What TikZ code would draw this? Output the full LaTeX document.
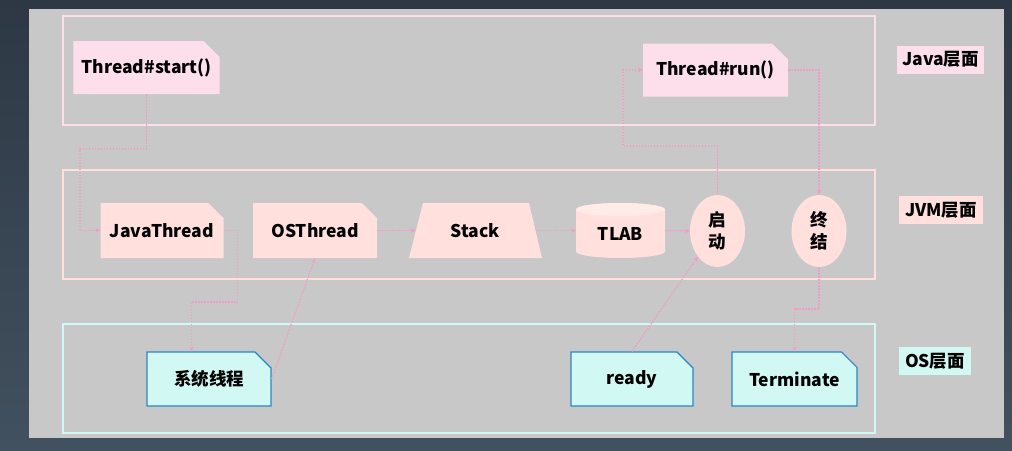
\documentclass[tikz,border=0pt]{standalone}
\usepackage{fontspec}
\setmainfont{Noto Sans CJK SC}
\usetikzlibrary{shapes.misc,shapes.geometric,arrows.meta,calc}
\definecolor{bgtop}{HTML}{2D3844}
\definecolor{bgbot}{HTML}{42515F}
\definecolor{panel}{HTML}{C8C8C8}
\definecolor{javapink}{HTML}{FCDFEA}
\definecolor{jvmpink}{HTML}{FFE0DC}
\definecolor{tlabtop}{HTML}{FFEBE8}
\definecolor{oscyan}{HTML}{D2F8F4}
\definecolor{osblue}{HTML}{2A86C6}
\definecolor{linkpink}{HTML}{F39CC6}
\tikzset{
  txt/.style={font=\fontsize{17.5}{22}\selectfont\bfseries, text=black, inner sep=0pt},
  dogear/.style={txt, chamfered rectangle, chamfered rectangle corners=north east,
     chamfered rectangle xsep=8pt, chamfered rectangle ysep=8pt},
  javanode/.style={dogear, fill=javapink, minimum width=145pt, minimum height=53pt},
  jvmnode/.style={dogear, fill=jvmpink, minimum width=123pt, minimum height=55pt},
  osnode/.style={dogear, fill=oscyan, draw=osblue, line width=1.2pt, minimum width=123pt, minimum height=54pt},
  oval/.style={txt, ellipse, fill=jvmpink, minimum width=55pt, minimum height=72pt, align=center},
  layerlabel/.style={txt, minimum height=28pt},
  javabox/.style={draw=javapink, line width=2pt},
  jvmbox/.style={draw=jvmpink, line width=2pt},
  osbox/.style={draw=oscyan, line width=2pt},
  conn/.style={draw=linkpink, line width=1.3pt, dash pattern=on 1.5pt off 1.5pt, -{Stealth[length=5pt,width=4.5pt]}},
}
\begin{document}
\begin{tikzpicture}[x=1pt,y=-1pt]
\useasboundingbox (0,0) rectangle (1012,450);
\shade[top color=bgtop, bottom color=bgbot] (0,0) rectangle (1012,450);
\fill[panel] (29,9) rectangle (1004,438);
% layers
\draw[javabox] (63,16) rectangle (875,125);
\draw[jvmbox] (63,170) rectangle (875,279);
\draw[osbox] (63,324) rectangle (875,433);
% layer labels
\node[layerlabel, fill=javapink, minimum width=87pt] (lj) at (940.5,59.5) {Java层面};
\node[layerlabel, fill=jvmpink, minimum width=84pt] (lv) at (941,210) {JVM层面};
\node[layerlabel, fill=oscyan, minimum width=72pt] (lo) at (935,361) {OS层面};
% java level
\node[javanode] (start) at (146.5,67.5) {Thread\#start()};
\node[javanode] (run) at (715.5,70) {Thread\#run()};
% jvm level
\node[jvmnode] (jt) at (162,230.5) {JavaThread};
\node[jvmnode, minimum width=124pt] (ost) at (315,230.5) {OSThread};
\fill[jvmpink] (409,258) -- (423,203) -- (529,203) -- (542,258) -- cycle;
\node[txt, minimum width=120pt, minimum height=55pt] (stack) at (475.5,230.5) {Stack};
\fill[jvmpink] (576,209.5) -- (576,251.5) arc[start angle=180, end angle=0, x radius=44.5, y radius=6.5]
   -- (665,209.5) arc[start angle=0, end angle=-180, x radius=44.5, y radius=6.5] -- cycle;
\fill[tlabtop] (620.5,209.5) ellipse[x radius=44.5, y radius=6.5];
\node[txt, minimum width=89pt, minimum height=55pt] (tlab) at (620.5,234) {TLAB};
\node[oval] (qd) at (717.5,231) {启\\动};
\node[oval] (zj) at (819,231) {终\\结};
% os level
\node[osnode, minimum width=124pt] (sys) at (209,379) {系统线程};
\node[osnode, minimum width=122pt] (ready) at (632,379) {ready};
\node[osnode, minimum width=125pt] (term) at (794.5,379) {Terminate};
% connectors
\draw[conn] (start.south) |- (80,149) -- (80,230.5) -- (jt.west);
\draw[conn] (jt.east) -| (237.5,302) -| ([xshift=45pt]sys.north west);
\draw[conn] (sys.east) -- (ost.south);
\draw[conn] (ost.east) -- (stack.west);
\draw[conn] (stack.east) -- (tlab.west |- stack.east);
\draw[conn] (tlab.east |- stack.east) -- (qd.west);
\draw[conn] (qd.north) |- (623,146) |- (run.west);
\draw[conn] (run.east) -| (zj.north);
\draw[conn] (ready.north) -- (qd.south west);
\draw[conn] (zj.south) |- (794.5,309) -- (term.north);
\end{tikzpicture}
\end{document}
